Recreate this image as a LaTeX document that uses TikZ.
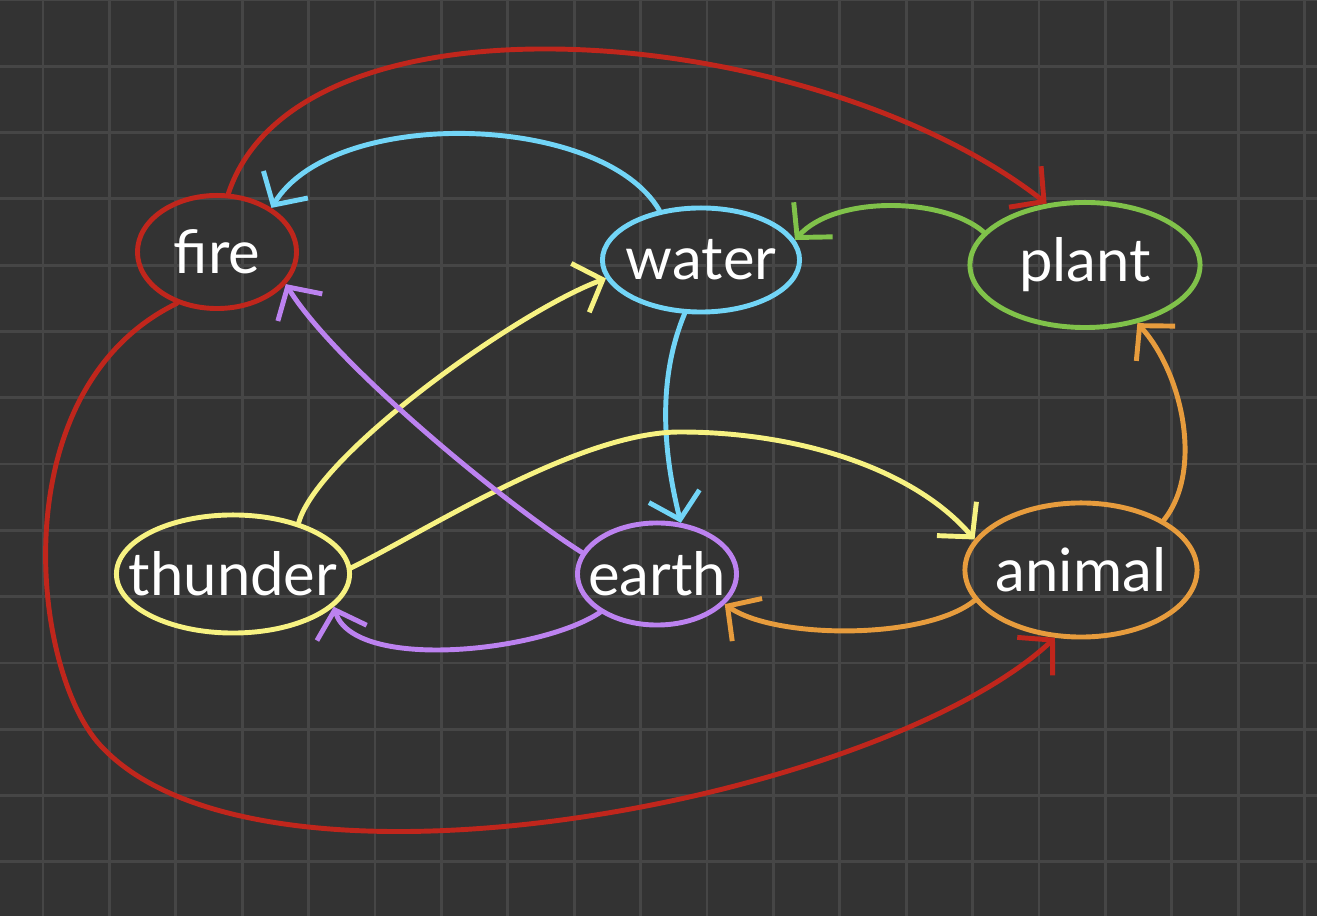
\documentclass[tikz,border=0pt]{standalone}
\usepackage{fontspec}
\setmainfont{Lato}
\usetikzlibrary{shapes.geometric,arrows.meta}
\definecolor{board}{HTML}{333333}
\definecolor{boardline}{HTML}{464646}
\definecolor{firered}{HTML}{C0261C}
\definecolor{waterblue}{HTML}{72D5F7}
\definecolor{plantgreen}{HTML}{80C24A}
\definecolor{thunderyellow}{HTML}{F7F282}
\definecolor{earthpurple}{HTML}{BC82F0}
\definecolor{animalorange}{HTML}{E79C3D}
\begin{document}
\begin{tikzpicture}[x=0.01cm, y=-0.01cm,
    gridline/.style={boardline, line width=0.8pt},
    elem/.style={ellipse, line width=1.4pt, inner sep=0pt,
      label={[text=white, font=\fontsize{17}{20}\selectfont]center:#1}},
    link/.style={line width=1.4pt, line cap=round, line join=round,
      -{Straight Barb[length=0.24cm, width=0.52cm, line width=1.4pt]}}]
  \useasboundingbox (0,0) rectangle (1317,916);
  \fill[board] (0,0) rectangle (1317,916);

  \foreach \gx in {0,...,19}
    \draw[gridline] ({43+66.4*\gx},0) -- ({43+66.4*\gx},916);
  \foreach \gy in {0,...,13}
    \draw[gridline] (0,{66.3*\gy}) -- (1317,{66.3*\gy});

  % elements
  \node[elem=fire, draw=firered, minimum width=1.59cm, minimum height=1.13cm] (fire) at (217,252) {};
  \node[elem=water, draw=waterblue, minimum width=1.97cm, minimum height=1.04cm] (water) at (701,260) {};
  \node[elem=plant, draw=plantgreen, minimum width=2.30cm, minimum height=1.25cm] (plant) at (1085,265) {};
  \node[elem=thunder, draw=thunderyellow, minimum width=2.33cm, minimum height=1.18cm] (thunder) at (233,574) {};
  \node[elem=earth, draw=earthpurple, minimum width=1.59cm, minimum height=1.02cm] (earth) at (657,574) {};
  \node[elem=animal, draw=animalorange, minimum width=2.32cm, minimum height=1.34cm] (animal) at (1081,570) {};

  % fire
  \draw[link, firered] (fire.79) .. controls +(72,-216) and +(-230,-180) .. (plant.122);
  \coordinate (redbend) at (100,745);
  \draw[link, firered] (fire.-128) .. controls +(-175,85) and +(-70,-77) .. (redbend)
    .. controls +(160,175) and +(-175,163) .. (animal.-111);

  % water
  \draw[link, waterblue] (water.130) .. controls +(-57,-98) and +(62,-102) .. (fire.39);
  \draw[link, waterblue] (water.-107) .. controls +(-25,60) and +(-20,-80) .. (earth.65);

  % plant
  \draw[link, plantgreen] (plant.162) .. controls +(-40,-35) and +(40,-45) .. (water.12);

  % thunder
  \draw[link, thunderyellow] (thunder.38) .. controls +(20,-70) and +(-87,32) .. (water.-169);
  \coordinate (yellowtop) at (680,432);
  \draw[link, thunderyellow] (thunder.3) .. controls +(80,-40) and +(-100,0) .. (yellowtop)
    .. controls +(120,0) and +(-60,-70) .. (animal.164);

  % earth
  \draw[link, earthpurple] (earth.164) .. controls +(-82,-52) and +(47,77) .. (fire.-25);
  \draw[link, earthpurple] (earth.-146) .. controls +(-60,40) and +(20,65) .. (thunder.-18);

  % animal
  \draw[link, animalorange] (animal.-164) .. controls +(-50,40) and +(50,35) .. (earth.-24);
  \draw[link, animalorange] (animal.31) .. controls +(40,-50) and +(45,50) .. (plant.-48);
\end{tikzpicture}
\end{document}
